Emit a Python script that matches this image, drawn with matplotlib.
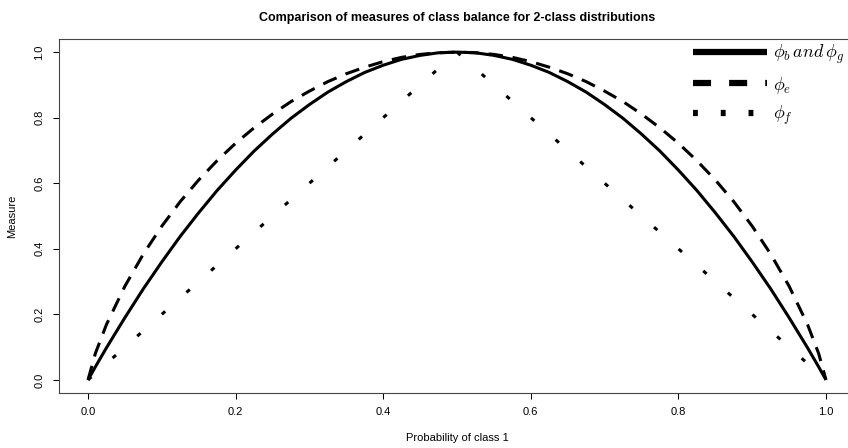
import matplotlib
matplotlib.use("Agg")
import matplotlib.pyplot as plt
from matplotlib.lines import Line2D

"""""""""""""""""""""""""""""""""""""""""""""""""""""""""""""""""""""""""""
Data Section (values read off the reference chart)
"""""""""""""""""""""""""""""""""""""""""""""""""""""""""""""""""""""""""""
p = [0.0, 0.01, 0.025, 0.05, 0.075, 0.1, 0.125, 0.15, 0.175, 0.2, 0.225, 0.25,
     0.275, 0.3, 0.325, 0.35, 0.375, 0.4, 0.425, 0.45, 0.475, 0.5,
     0.525, 0.55, 0.575, 0.6, 0.625, 0.65, 0.675, 0.7, 0.725, 0.75,
     0.775, 0.8, 0.825, 0.85, 0.875, 0.9, 0.925, 0.95, 0.975, 0.99, 1.0]
# phi_b and phi_g (solid)
phi_bg = [0.0, 0.040, 0.098, 0.190, 0.278, 0.360, 0.438, 0.510, 0.578, 0.640, 0.698, 0.750,
          0.798, 0.840, 0.878, 0.910, 0.938, 0.960, 0.978, 0.990, 0.998, 1.0,
          0.998, 0.990, 0.978, 0.960, 0.938, 0.910, 0.878, 0.840, 0.798, 0.750,
          0.698, 0.640, 0.578, 0.510, 0.438, 0.360, 0.278, 0.190, 0.098, 0.040, 0.0]
# phi_e (dashed)
phi_e = [0.0, 0.081, 0.169, 0.286, 0.384, 0.469, 0.544, 0.610, 0.669, 0.722, 0.769, 0.811,
         0.849, 0.881, 0.910, 0.934, 0.954, 0.971, 0.984, 0.993, 0.998, 1.0,
         0.998, 0.993, 0.984, 0.971, 0.954, 0.934, 0.910, 0.881, 0.849, 0.811,
         0.769, 0.722, 0.669, 0.610, 0.544, 0.469, 0.384, 0.286, 0.169, 0.081, 0.0]
# phi_f (dotted)
phi_f = [0.0, 0.02, 0.05, 0.10, 0.15, 0.20, 0.25, 0.30, 0.35, 0.40, 0.45, 0.50,
         0.55, 0.60, 0.65, 0.70, 0.75, 0.80, 0.85, 0.90, 0.95, 1.0,
         0.95, 0.90, 0.85, 0.80, 0.75, 0.70, 0.65, 0.60, 0.55, 0.50,
         0.45, 0.40, 0.35, 0.30, 0.25, 0.20, 0.15, 0.10, 0.05, 0.02, 0.0]

labels = [r"$\phi_b\,\mathit{and}\,\phi_g$", r"$\phi_e$", r"$\phi_f$"]
xticks = [0.0, 0.2, 0.4, 0.6, 0.8, 1.0]
yticks = [0.0, 0.2, 0.4, 0.6, 0.8, 1.0]

"""""""""""""""""""""""""""""""""""""""""""""""""""""""""""""""""""""""""""
Plot Section
"""""""""""""""""""""""""""""""""""""""""""""""""""""""""""""""""""""""""""
plt.rcParams['font.family'] = ['Liberation Sans', 'DejaVu Sans']
plt.rcParams['mathtext.fontset'] = 'cm'
plt.rcParams['lines.scale_dashes'] = False

fig = plt.figure(figsize=(8.48, 4.48), dpi=100)
ax = fig.add_axes([58.5 / 848, 1 - 393 / 448, 797 / 848, 354 / 448])

lw = 2.2
ax.plot(p, phi_bg, color='black', lw=lw, solid_capstyle='butt')
ax.plot(p, phi_e, color='black', lw=lw, dashes=(10.5, 7), dash_capstyle='butt')
ax.plot(p, phi_f, color='black', lw=lw, dashes=(3.2, 20.5), dash_capstyle='butt')

ax.set_xlim(-0.04, 1.04)
ax.set_ylim(-0.04, 1.04)
ax.set_xticks(xticks)
ax.set_yticks(yticks)
ax.set_xticklabels(["%.1f" % v for v in xticks], fontsize=8)
ax.set_yticklabels(["%.1f" % v for v in yticks], fontsize=8, rotation=90, va='center')
ax.tick_params(direction='out', length=4.3, width=0.75, pad=6)
for s in ax.spines.values():
    s.set_linewidth(0.8)
    s.set_color('#444444')

ax.set_xlabel("Probability of class 1", fontsize=8)
ax.xaxis.set_label_coords(0.5, -0.112)
ax.set_ylabel("Measure", fontsize=8)
ax.yaxis.set_label_coords(-0.052, 0.5)
ax.set_title("Comparison of measures of class balance for 2-class distributions",
             fontsize=9, fontweight='bold', pad=13)

handles = [Line2D([], [], color='black', lw=4.5, solid_capstyle='butt'),
           Line2D([], [], color='black', lw=4.5, dashes=(13, 13), dash_capstyle='butt'),
           Line2D([], [], color='black', lw=4.5, dashes=(3.5, 16.5), dash_capstyle='butt')]
ax.legend(handles, labels, loc='upper left', bbox_to_anchor=(686 / 848, 1 - 36 / 448),
          bbox_transform=fig.transFigure, frameon=False, fontsize=13,
          handlelength=4.1, handletextpad=0.3, labelspacing=0.45, borderaxespad=0)

fig.savefig("out.png", dpi=100)
